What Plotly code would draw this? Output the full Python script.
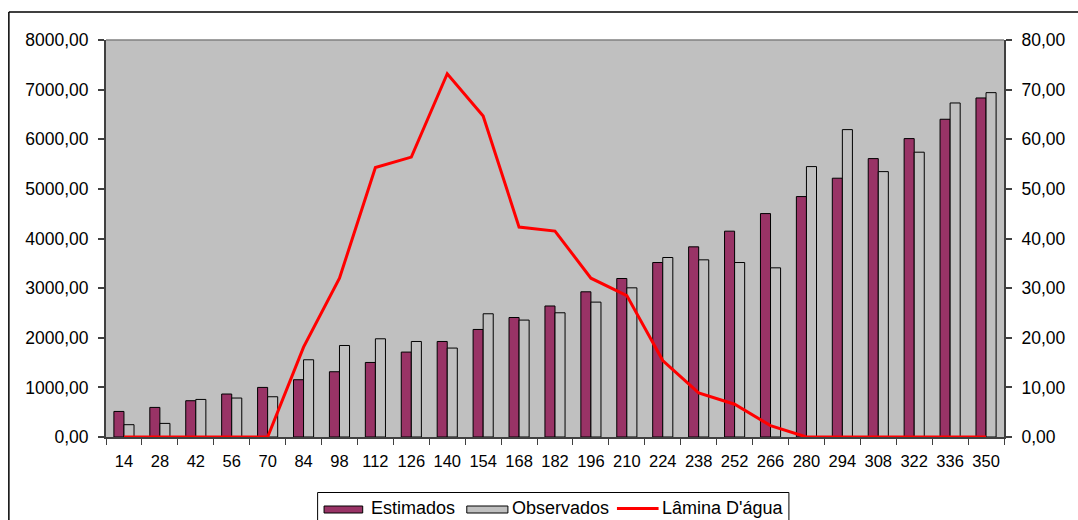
import plotly.graph_objects as go

# Days after sowing (category axis)
dias = ["14", "28", "42", "56", "70", "84", "98", "112", "126", "140", "154", "168", "182",
        "196", "210", "224", "238", "252", "266", "280", "294", "308", "322", "336", "350"]

# Dry matter, estimated vs observed (left axis)
estimados = [515, 596, 731, 866, 999, 1154, 1315, 1502, 1711, 1925, 2167, 2408, 2640,
             2926, 3194, 3516, 3832, 4148, 4502, 4845, 5215, 5610, 6013, 6403, 6832]
observados = [248, 274, 757, 785, 811, 1556, 1844, 1979, 1925, 1792, 2483, 2356, 2503,
              2718, 3006, 3617, 3570, 3516, 3409, 5449, 6194, 5348, 5739, 6731, 6939]

# Water depth (right axis)
lamina = [0, 0, 0, 0, 0, 18.1, 32.0, 54.3, 56.4, 73.2, 64.7, 42.3, 41.5,
          32.0, 28.5, 15.4, 8.9, 6.6, 2.3, 0, 0, 0, 0, 0, 0]

series_names = ["Estimados", "Observados", "Lâmina D'água"]

W, H = 1078, 520
L, R, T, B = 106, 1012, 40, 437  # plot area in pixels

def px_x(px):
    return (px - L) / (R - L)

def px_y(py):
    return (B - py) / (B - T)

FONT = "Liberation Sans, Arial, sans-serif"
EST_COLOR = "#993366"
OBS_COLOR = "#C0C0C0"
LINE_COLOR = "#FF0000"

fig = go.Figure()
fig.add_trace(go.Bar(x=dias, y=estimados, name=series_names[0], marker=dict(color=EST_COLOR, line=dict(color="#000000", width=1)), showlegend=False))
fig.add_trace(go.Bar(x=dias, y=observados, name=series_names[1], marker=dict(color=OBS_COLOR, line=dict(color="#000000", width=1)), showlegend=False))
fig.add_trace(go.Scatter(x=dias, y=lamina, name=series_names[2], mode="lines", yaxis="y2",
                         line=dict(color=LINE_COLOR, width=3), showlegend=False))

axis_font = dict(family=FONT, size=17.5, color="#000000")
xaxis_font = dict(family=FONT, size=16.5, color="#000000")

shapes = [
    # plot-area top edge
    dict(type="line", xref="paper", yref="paper", x0=0, x1=1, y0=1, y1=1, line=dict(color="#808080", width=1.5)),
    # chart frame (left and top edges)
    dict(type="line", xref="paper", yref="paper", x0=px_x(8), x1=px_x(8), y0=px_y(12), y1=px_y(540), line=dict(color="#000000", width=1.5)),
    dict(type="line", xref="paper", yref="paper", x0=px_x(8), x1=px_x(1100), y0=px_y(12), y1=px_y(12), line=dict(color="#000000", width=1.5)),
    # legend box
    dict(type="rect", xref="paper", yref="paper", x0=px_x(319.5), x1=px_x(795), y0=px_y(492.5), y1=px_y(540),
         line=dict(color="#000000", width=1), fillcolor="#FFFFFF", layer="below"),
    # legend swatches
    dict(type="rect", xref="paper", yref="paper", x0=px_x(326), x1=px_x(365), y0=px_y(506), y1=px_y(513),
         line=dict(color="#000000", width=1), fillcolor=EST_COLOR),
    dict(type="rect", xref="paper", yref="paper", x0=px_x(470), x1=px_x(511.5), y0=px_y(506), y1=px_y(513),
         line=dict(color="#000000", width=1), fillcolor=OBS_COLOR),
    dict(type="line", xref="paper", yref="paper", x0=px_x(621.5), x1=px_x(663.5), y0=px_y(508.5), y1=px_y(508.5),
         line=dict(color=LINE_COLOR, width=3)),
]

legend_font = dict(family=FONT, size=18, color="#000000")
annotations = [
    dict(text=series_names[0], xref="paper", yref="paper", x=px_x(371), y=px_y(507.5), xanchor="left", yanchor="middle", showarrow=False, font=legend_font),
    dict(text=series_names[1], xref="paper", yref="paper", x=px_x(514), y=px_y(507.5), xanchor="left", yanchor="middle", showarrow=False, font=legend_font),
    dict(text=series_names[2], xref="paper", yref="paper", x=px_x(665), y=px_y(507.5), xanchor="left", yanchor="middle", showarrow=False, font=legend_font),
]

fig.update_layout(
    width=W, height=H,
    margin=dict(l=L, r=W - R, t=T, b=H - B, pad=0),
    paper_bgcolor="#FFFFFF",
    plot_bgcolor="#C0C0C0",
    barmode="group",
    bargap=0.44,
    bargroupgap=0,
    separators=",.",
    showlegend=False,
    shapes=shapes,
    annotations=annotations,
    xaxis=dict(type="category", tickson="boundaries", ticks="outside", ticklen=6, tickwidth=1, tickcolor="#404040",
               showline=True, linecolor="#404040", linewidth=2, showgrid=False, zeroline=False,
               tickangle=0, tickfont=xaxis_font, ticklabelstandoff=8),
    yaxis=dict(range=[0, 8000], dtick=1000, tickformat=".2f", ticks="outside", ticklen=6, tickwidth=1.5, tickcolor="#404040",
               showline=True, linecolor="#404040", linewidth=2, showgrid=False, zeroline=False,
               tickfont=axis_font, ticklabelstandoff=6),
    yaxis2=dict(range=[0, 80], dtick=10, tickformat=".2f", overlaying="y", side="right", ticks="outside", ticklen=6,
                tickwidth=1.5, tickcolor="#404040", showline=True, linecolor="#404040", linewidth=2,
                showgrid=False, zeroline=False, tickfont=axis_font, ticklabelstandoff=6),
)

fig.write_html("out.html")
